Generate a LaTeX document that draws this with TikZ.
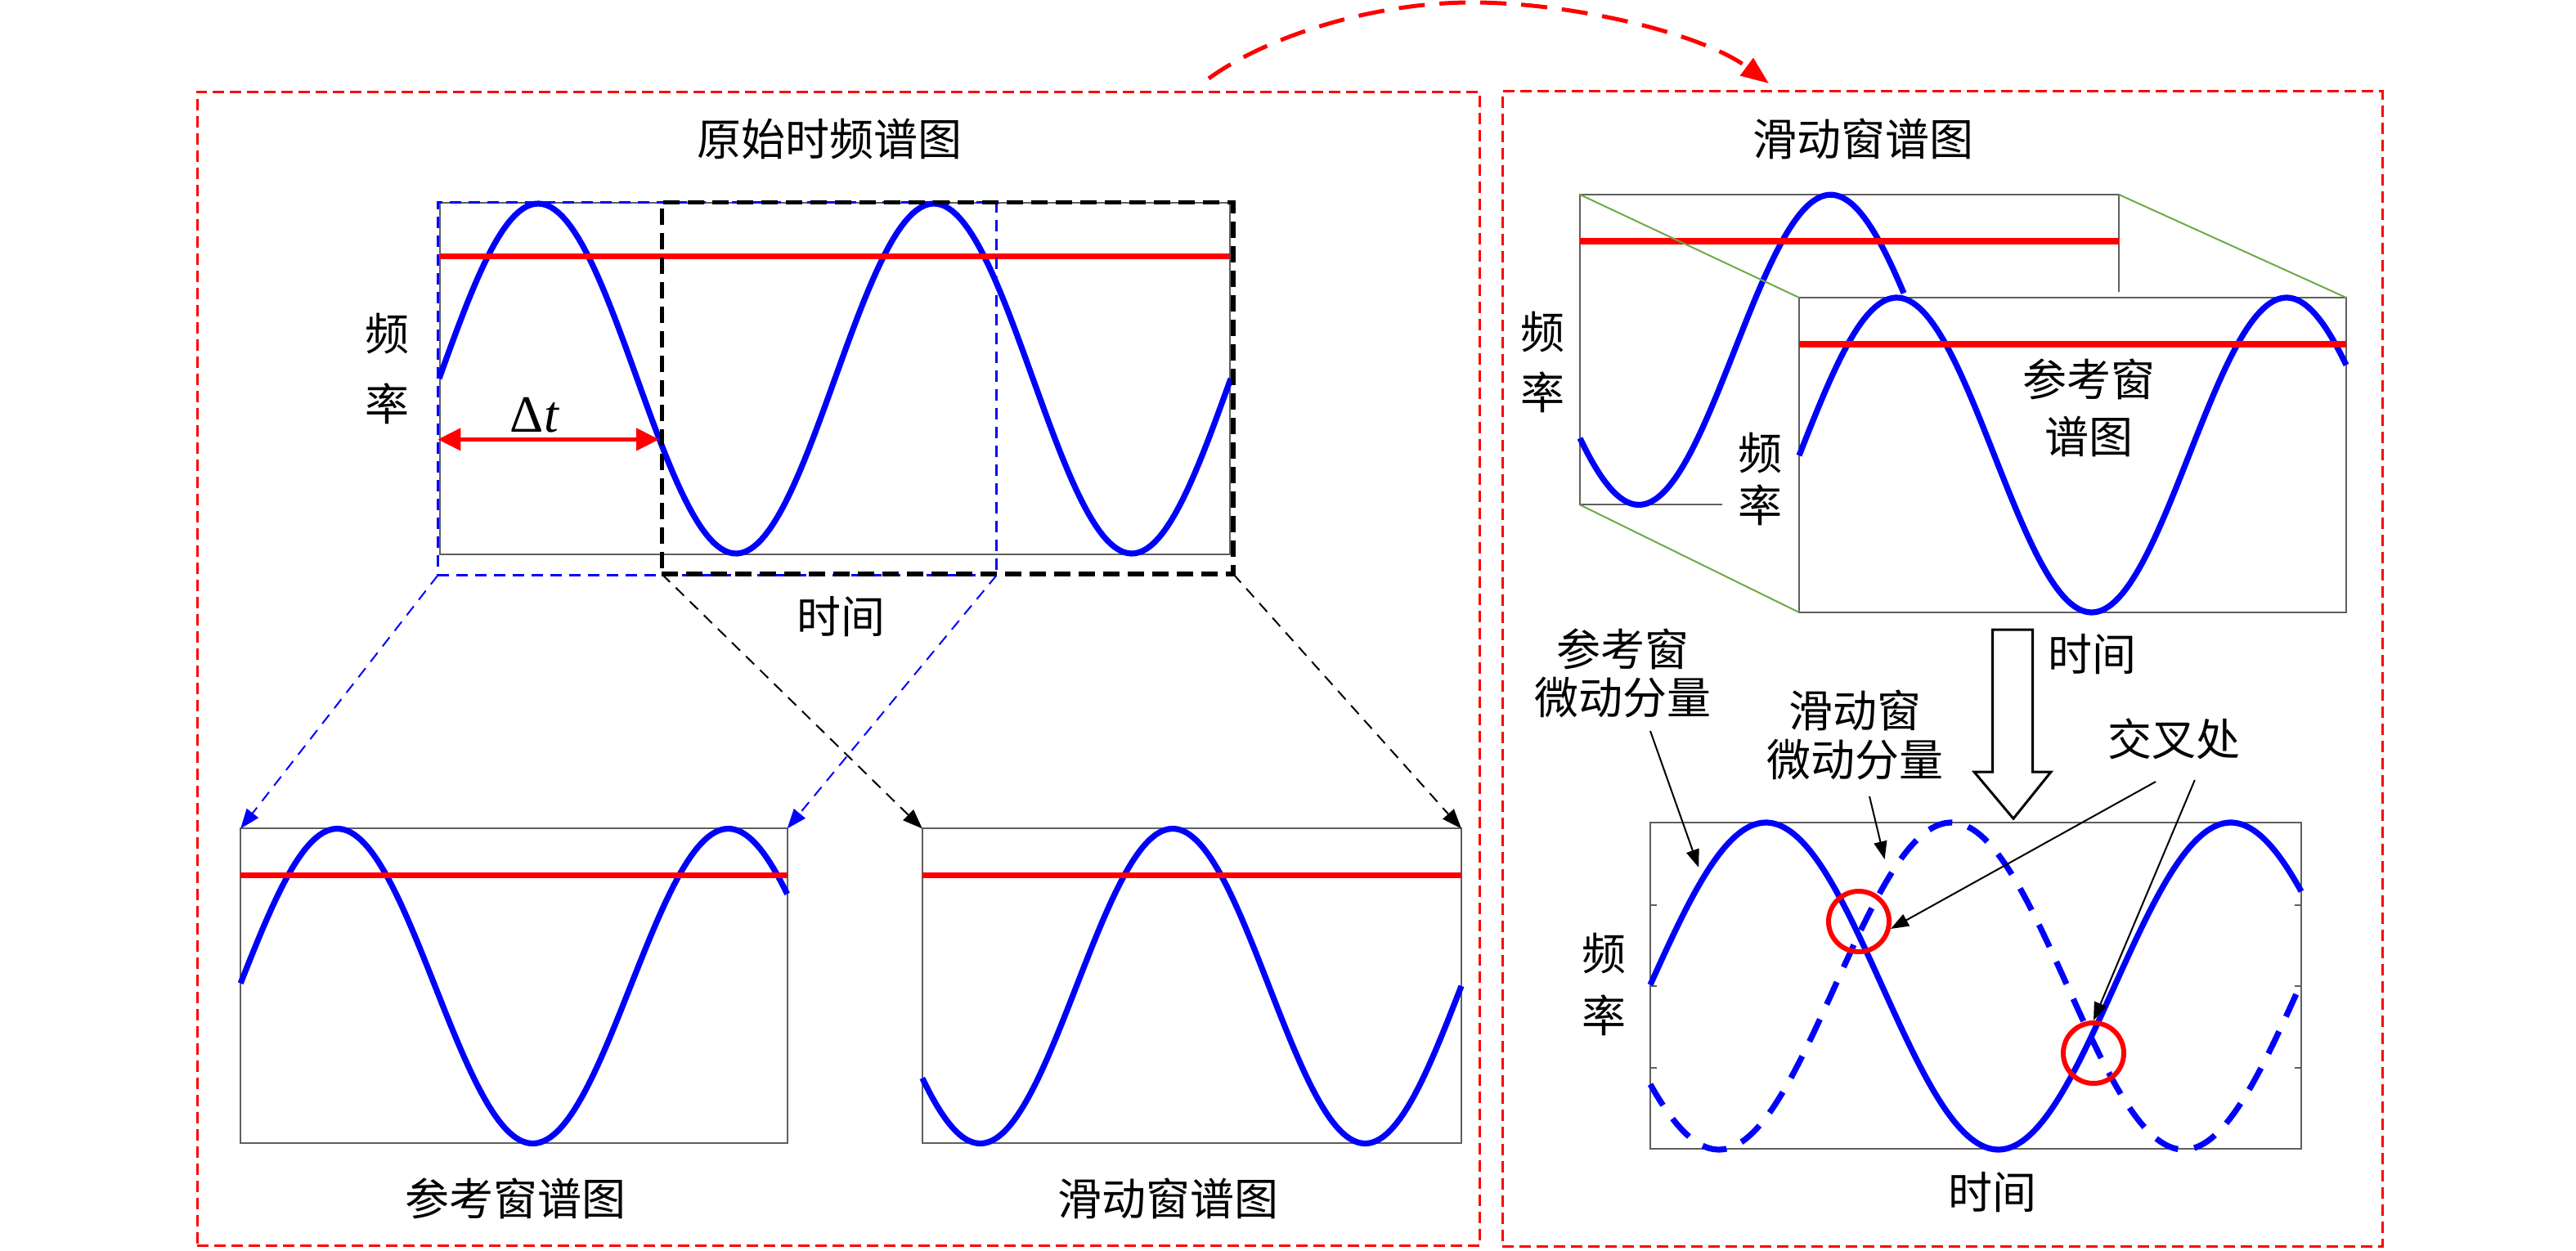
\documentclass[tikz,border=0pt]{standalone}
\usepackage{fontspec}
\newfontfamily\cjk{Noto Sans CJK SC}
\newfontfamily\lserif{Liberation Serif}
\usetikzlibrary{arrows.meta}
\definecolor{boxgray}{RGB}{95,95,95}
\definecolor{olivegreen}{RGB}{110,170,70}
\begin{document}
\begin{tikzpicture}[x=1pt,y=-1pt,
  cjklbl/.style={inner sep=0pt, font=\cjk\fontsize{27}{30}\selectfont},
  plotbox/.style={draw=boxgray, line width=1pt, inner sep=0pt, outer sep=0pt},
  sine/.style={blue, line width=3.6pt, line join=round},
  dsine/.style={blue, line width=3.6pt, dash pattern=on 15pt off 10pt},
  redline/.style={red, line width=3.8pt},
  panel/.style={draw=red, line width=1.5pt, dash pattern=on 7pt off 3.5pt, inner sep=0pt, outer sep=0pt},
  bwinbox/.style={draw=blue, line width=1.6pt, dash pattern=on 7pt off 4.5pt, inner sep=0pt, outer sep=0pt},
  kwinbox/.style={draw=black, line width=2.6pt, dash pattern=on 10pt off 5pt, inner sep=0pt, outer sep=0pt},
  bconn/.style={blue, line width=1pt, dash pattern=on 7pt off 5pt, -{Triangle[length=12pt,width=9pt]}},
  kconn/.style={black, line width=1pt, dash pattern=on 7pt off 5pt, -{Triangle[length=12pt,width=9pt]}},
  greenedge/.style={olivegreen, line width=1pt},
  pointer/.style={black, line width=1pt, -{Triangle[length=11pt,width=8pt]}},
  ring/.style={circle, draw=red, line width=3pt, minimum size=37pt, inner sep=0pt}
]
\useasboundingbox (0,0) rectangle (1575,765);

% ---------- panels ----------
\node[panel, minimum width=784.4pt, minimum height=705.3pt] (lpanel) at (512.7,408.85) {};
\node[panel, minimum width=538pt, minimum height=706pt] (rpanel) at (1187.5,409) {};

% curved link arrow
\coordinate (arcS) at (739,48);
\coordinate (arcT) at (900,1.5);
\coordinate (arcE) at (1081.5,51);
\draw[red, line width=2.5pt, dash pattern=on 16pt off 9pt, -{Triangle[length=17pt,width=13pt]}]
  (arcS) .. controls (775,22) and (840,1.5) .. (arcT) .. controls (960,1.5) and (1040,20) .. (arcE);

% ---------- left panel ----------
\node[cjklbl] (ttl1) at (507,85) {原始时频谱图};
\node[plotbox, minimum width=483pt, minimum height=215pt] (orig) at (510.5,231.5) {};
\draw[sine] plot[domain=268.5:752.5, samples=200] (\x,{231.5-107*sin(((\x-268.5)/242)*360)});
\draw[redline] (269,156.8) -- (752,156.8);
\node[bwinbox, minimum width=341.6pt, minimum height=228.1pt] (bwin) at (438.5,237.75) {};
\node[kwinbox, minimum width=349.4pt, minimum height=227.3pt] (kwin) at (579.3,237.35) {};
\node[cjklbl] (f1) at (236.5,204) {频};
\node[cjklbl] (r1) at (236.5,247) {率};
\node[cjklbl] (t1) at (514,377) {时间};
\coordinate (dtL) at (267.7,268.7);
\coordinate (dtR) at (403,268.7);
\draw[red, line width=2.2pt, {Triangle[length=14pt,width=13.5pt]}-{Triangle[length=14pt,width=13.5pt]}] (dtL) -- (dtR);
\node[inner sep=0pt, font=\lserif\fontsize{32}{34}\selectfont] (dt) at (327,254) {Δ\textit{t}};

% bottom-left plots
\node[plotbox, minimum width=334.2pt, minimum height=192.5pt] (refp) at (314.2,602.95) {};
\draw[sine] plot[domain=147.1:481.3, samples=160] (\x,{603-96.25*cos(((\x-206.2)/239.1)*360)});
\draw[redline] (147.1,535.2) -- (481.3,535.2);
\node[plotbox, minimum width=329.6pt, minimum height=192.5pt] (slip) at (728.7,602.95) {};
\draw[sine] plot[domain=563.9:893.5, samples=160] (\x,{603-96.25*cos(((\x-717)/235.3)*360)});
\draw[redline] (563.9,535.2) -- (893.5,535.2);
\node[cjklbl] (lref) at (315,733) {参考窗谱图};
\node[cjklbl] (lsli) at (714,733) {滑动窗谱图};

\draw[bconn] (bwin.south west) -- (refp.north west);
\draw[bconn] (bwin.south east) -- (refp.north east);
\draw[kconn] (kwin.south west) -- (slip.north west);
\draw[kconn] (kwin.south east) -- (slip.north east);

% ---------- right panel ----------
\node[cjklbl] (ttl2) at (1139,85) {滑动窗谱图};
\coordinate (bTL) at (966,119);
\coordinate (bTR) at (1295.5,119);
\coordinate (bBL) at (966,308.7);
\coordinate (bRE) at (1295.5,178.6);
\coordinate (bBE) at (1053,308.7);
\draw[draw=boxgray, line width=1pt] (bRE) -- (bTR) -- (bTL) -- (bBL) -- (bBE);
\draw[sine] plot[domain=966:1164, samples=120] (\x,{213.9+94.8*cos(((\x-1002)/234.6)*360)});
\draw[redline] (966,147.4) -- (1295.5,147.4);
\node[plotbox, minimum width=334.5pt, minimum height=192.5pt] (front) at (1267.25,278.25) {};
\draw[greenedge] (bTL) -- (front.north west);
\draw[greenedge] (bTR) -- (front.north east);
\draw[greenedge] (bBL) -- (front.south west);
\draw[sine] plot[domain=1100:1434.5, samples=160] (\x,{278.25-96.25*cos(((\x-1159.7)/238.3)*360)});
\draw[redline] (1100,210.5) -- (1434.5,210.5);
\node[cjklbl] (f2) at (943,203) {频};
\node[cjklbl] (r2) at (943,240) {率};
\node[cjklbl] (f3) at (1076,277) {频};
\node[cjklbl] (r3) at (1076,309) {率};
\node[cjklbl, align=center] (frontlbl) at (1277,249.5) {参考窗\\[5pt]谱图};

% hollow arrow
\draw[black, line width=1.5pt, fill=white, line join=miter]
  (1218.3,385) -- (1242.8,385) -- (1242.8,472) -- (1254,472) -- (1231,500.6) -- (1207,472) -- (1218.3,472) -- cycle;
\node[cjklbl] (t2) at (1279,400) {时间};

% bottom-right plot
\node[plotbox, minimum width=398pt, minimum height=199.7pt] (cross) at (1208,602.85) {};
\foreach \yy in {553.4,603,652.9} {
  \draw[boxgray, line width=1pt] (1009,\yy) -- (1013,\yy);
  \draw[boxgray, line width=1pt] (1407,\yy) -- (1403,\yy);
}
\draw[sine] plot[domain=1009:1407, samples=200] (\x,{603-100*cos(((\x-1079.7)/284.2)*360)});
\draw[dsine] plot[domain=1009:1407, samples=200] (\x,{603-100*cos(((\x-1193)/284.2)*360)});
\node[ring] (c1) at (1136.5,563.5) {};
\node[ring] (c2) at (1280,644) {};
\node[cjklbl] (f4) at (980.7,583) {频};
\node[cjklbl] (r4) at (980.7,620.7) {率};
\node[cjklbl] (t3) at (1218,729) {时间};

\node[cjklbl, align=center, font=\cjk\fontsize{27}{29.6}\selectfont] (refcomp) at (992,411.8) {参考窗\\微动分量};
\node[cjklbl, align=center, font=\cjk\fontsize{27}{30}\selectfont] (slicomp) at (1134,449.6) {滑动窗\\微动分量};
\node[cjklbl] (xlbl) at (1329,452) {交叉处};

\coordinate (s1) at (1009,447);
\coordinate (e1) at (1038.6,530.5);
\coordinate (s2) at (1143,487);
\coordinate (e2) at (1152.3,525.5);
\coordinate (s3) at (1318,478);
\coordinate (s4) at (1341.9,477);
\draw[pointer] (s1) -- (e1);
\draw[pointer] (s2) -- (e2);
\draw[pointer] (s3) -- (c1.-13);
\draw[pointer] (s4) -- (c2.north);
\end{tikzpicture}
\end{document}
